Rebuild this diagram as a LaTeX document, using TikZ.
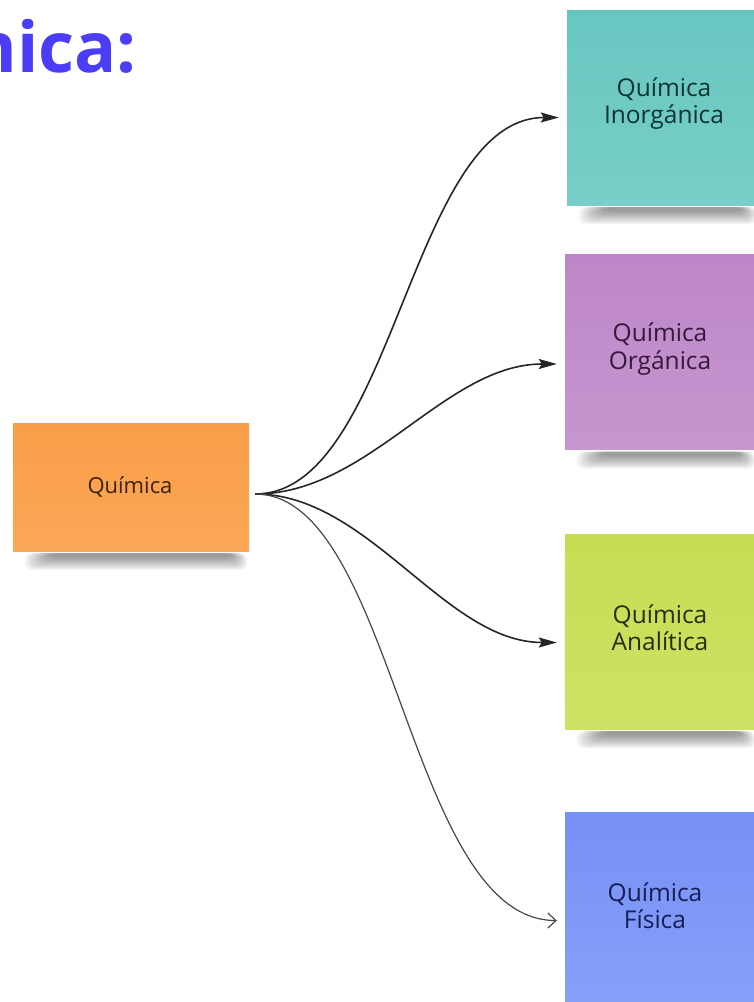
\documentclass[tikz,border=0pt]{standalone}
\usepackage{fontspec}
\setmainfont{Open Sans}
\usetikzlibrary{arrows.meta,backgrounds}
\definecolor{titleblue}{HTML}{4B3CF5}
\definecolor{orA}{HTML}{F99D48}\definecolor{orB}{HTML}{FBA858}\definecolor{orT}{HTML}{3E220E}
\definecolor{teA}{HTML}{68C6C0}\definecolor{teB}{HTML}{78CEC8}\definecolor{teT}{HTML}{0E3533}
\definecolor{puA}{HTML}{BE86C8}\definecolor{puB}{HTML}{C696CF}\definecolor{puT}{HTML}{35183A}
\definecolor{grA}{HTML}{C7DD55}\definecolor{grB}{HTML}{CDE264}\definecolor{grT}{HTML}{262F0C}
\definecolor{blA}{HTML}{7690F6}\definecolor{blB}{HTML}{87A0F8}\definecolor{blT}{HTML}{161E55}
\tikzset{
  note/.style={rectangle, inner sep=0pt, draw=none},
  bignote/.style={note, minimum width=192pt, minimum height=195pt},
  notetext/.style={font=\fontsize{24.5}{27.5}\selectfont, align=center},
  smalltext/.style={font=\fontsize{22}{27}\selectfont, align=center},
  link/.style={-{Stealth[length=18pt,width=10pt,inset=3pt]}, line width=1.6pt, black!85, shorten >=8pt, shorten <=6pt},
  openlink/.style={-{Straight Barb[length=8pt,width=15pt]}, line width=1.2pt, black!72, shorten >=8pt, shorten <=6pt},
  shadowlayer/.style={fill=black, fill opacity=0.045, draw=none, rounded corners=7pt}
}
\begin{document}
\begin{tikzpicture}[x=1pt,y=-1pt]
\useasboundingbox (0,0) rectangle (754,1002);
\clip (0,0) rectangle (754,1002);

% title (partly outside the picture, as in the reference)
\node[anchor=base east, inner sep=0pt, text=titleblue, font=\fontsize{70}{80}\selectfont\bfseries] (title) at (137,72) {Química:};

% notes
\node[note, minimum width=236pt, minimum height=128pt, top color=orA, bottom color=orB] (q) at (131,487) {};
\node[smalltext, text=orT] (qt) at (130,487) {Química};

\node[bignote, top color=teA, bottom color=teB] (ino) at (663,107.5) {};
\node[notetext, text=teT] (inot) at (664,103.5) {Química\\Inorgánica};

\node[bignote, top color=puA, bottom color=puB] (org) at (661,352) {};
\node[notetext, text=puT] (orgt) at (660,349) {Química\\Orgánica};

\node[bignote, top color=grA, bottom color=grB] (ana) at (661,631.5) {};
\node[notetext, text=grT] (anat) at (660,627.5) {Química\\Analítica};

\node[bignote, top color=blA, bottom color=blB] (fis) at (661,909.5) {};
\node[notetext, text=blT] (fist) at (655,905.5) {Química\\Física};

% soft shadows under the notes
\begin{pgfonlayer}{background}
  \foreach \n in {q,ino,org,ana,fis}{
    \foreach \i in {0,...,10}{
      \fill[shadowlayer] ([xshift={12pt+2.5pt*\i},yshift=-2pt]\n.south west) rectangle ([xshift={-2pt-1.5pt*\i},yshift={-19pt+1.3pt*\i}]\n.south east);
    }
  }
\end{pgfonlayer}

% connectors
\draw[link] ([yshift=-7pt]q.east) .. controls +(145,0) and +(-157,0) .. ([yshift=-10pt]ino.west);
\draw[link] ([yshift=-7pt]q.east) .. controls +(120,0) and +(-120,0) .. ([yshift=-12pt]org.west);
\draw[link] ([yshift=-7pt]q.east) .. controls +(120,0) and +(-120,0) .. ([yshift=-11pt]ana.west);
\draw[openlink] ([yshift=-7pt]q.east) .. controls +(145,0) and +(-157,0) .. ([yshift=-11pt]fis.west);
\end{tikzpicture}
\end{document}
